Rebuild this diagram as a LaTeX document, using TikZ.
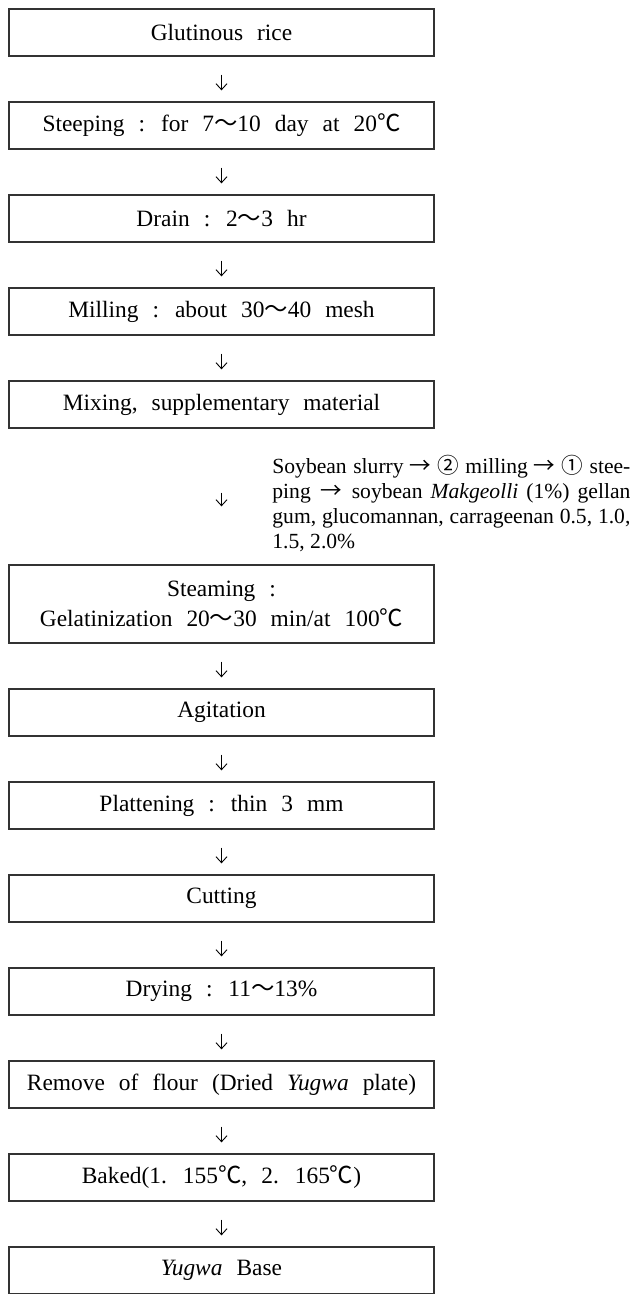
\documentclass[tikz,border=0pt]{standalone}
\usepackage{fontspec}
\setmainfont{Liberation Serif}
\newfontfamily\boxfont[WordSpace=2.4]{Liberation Serif}
\newfontfamily\cjk{Noto Sans CJK KR}
\usetikzlibrary{positioning,arrows.meta}
\newcommand{\wv}{{\cjk ～}}
\newcommand{\dc}{{\cjk ℃}}
\newcommand{\ra}{\hskip0.15em plus 0.3em{\cjk →}\hskip0.15em plus 0.3em\relax}

\begin{document}
\begin{tikzpicture}[
    x=0.5pt, y=-0.5pt,
    box/.style={draw=black!80, line width=0.65pt, rectangle, minimum width=212.5pt, minimum height=23.5pt, inner sep=0pt, align=center, font=\boxfont\fontsize{11.7}{15}\selectfont},
    arr/.style={-{Straight Barb[length=3pt,width=5.5pt]}, line width=0.45pt, shorten <=9pt, shorten >=5.5pt}
]
\useasboundingbox (0,0) rectangle (632,1294);

\node[box] (rice) at (221.5,32.5) {Glutinous rice};
\node[box, below=22.35pt of rice] (steep) {Steeping : for 7\wv10 day at 20\dc};
\node[box, below=22.35pt of steep] (drain) {Drain : 2\wv3 hr};
\node[box, below=22.35pt of drain] (mill) {Milling : about 30\wv40 mesh};
\node[box, below=22.35pt of mill] (mix) {Mixing, supplementary material};
\node[box, minimum height=39pt, below=67.85pt of mix] (steam) {Steaming :\\Gelatinization 20\wv30 min/at 100\dc};
\node[box, below=22.35pt of steam] (agit) {Agitation};
\node[box, below=22.35pt of agit] (flat) {Plattening : thin 3 mm};
\node[box, below=22.35pt of flat] (cut) {Cutting};
\node[box, below=22.35pt of cut] (dry) {Drying : 11\wv13\%};
\node[box, below=22.35pt of dry] (flour) {Remove of flour (Dried \textit{Yugwa} plate)};
\node[box, below=22.35pt of flour] (bake) {Baked(1. 155\dc, 2. 165\dc)};
\node[box, below=22.35pt of bake] (base) {\textit{Yugwa} Base};

% additives beside the mixing step
\node[anchor=north west, inner sep=0pt, text width=179pt, align=justify, font=\fontsize{10.8}{12.5}\selectfont] (note) at (272,455)
  {Soybean slurry\ra{\cjk ②} milling\ra{\cjk ①} stee-\linebreak
   ping\ra soybean \textit{Makgeolli} (1\%) gellan\linebreak
   gum, glucomannan, carrageenan 0.5, 1.0,\linebreak
   1.5, 2.0\%};

\draw[arr] (rice) -- (steep);
\draw[arr] (steep) -- (drain);
\draw[arr] (drain) -- (mill);
\draw[arr] (mill) -- (mix);
\draw[arr, shorten <=32pt, shorten >=29pt] (mix) -- (steam);
\draw[arr] (steam) -- (agit);
\draw[arr] (agit) -- (flat);
\draw[arr] (flat) -- (cut);
\draw[arr] (cut) -- (dry);
\draw[arr] (dry) -- (flour);
\draw[arr] (flour) -- (bake);
\draw[arr] (bake) -- (base);

\end{tikzpicture}
\end{document}
